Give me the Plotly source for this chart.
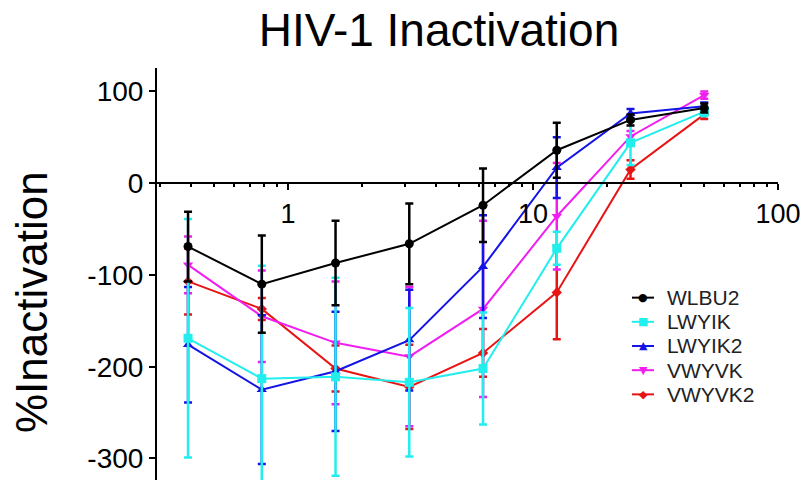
import plotly.graph_objects as go

# Concentration (two-fold dilution series)
conc = [0.390625, 0.78125, 1.5625, 3.125, 6.25, 12.5, 25, 50]

series_names = ["WLBU2", "LWYIK", "LWYIK2", "VWYVK", "VWYVK2"]

wlbu2 = [-69, -110, -87, -66, -24, 36, 69, 82]
wlbu2_err = [38, 53, 46, 44, 40, 30, 6, 5]

lwyik = [-169, -213, -211, -217, -202, -71, 44, 78]
lwyik_err = [130, 123, 108, 81, 61, 18, 24, 5]

lwyik2 = [-176, -225, -205, -171, -91, 17, 76, 84]
lwyik2_err = [63, 81, 65, 55, 56, 33, 5, 4]

vwyvk = [-89, -145, -174, -189, -137, -36, 51, 96]
vwyvk_err = [31, 50, 67, 76, 96, 58, 6, 4]

vwyvk2 = [-107, -137, -202, -222, -185, -119, 15, 75]
vwyvk2_err = [36, 12, 25, 46, 26, 51, 10, 5]

y_ticks = [-300, -200, -100, 0, 100]
y_tick_labels = ["-300", "-200", "-100", "0", "100"]
x_ticks = [1, 10, 100]
x_tick_labels = ["1", "10", "100"]

values = [wlbu2, lwyik, lwyik2, vwyvk, vwyvk2]
errors = [wlbu2_err, lwyik_err, lwyik2_err, vwyvk_err, vwyvk2_err]
colors = ["#000000", "#22EEEE", "#1414E6", "#F01EF0", "#E81414"]
symbols = ["circle", "square", "triangle-up", "triangle-down", "diamond"]
key_glyphs = ["●", "■", "▲", "▼", "◆"]
sizes = [9, 9, 9, 9, 8]

FONT = "Liberation Sans, Arial, sans-serif"
W, H = 807, 480
ML, MR, MT, MB = 157, 29, 68, 0
PW, PH = W - ML - MR, H - MT - MB


def px_x(p):
    return (p - ML) / PW


def px_y(p):
    return (H - MB - p) / PH


fig = go.Figure()
# draw order: red first, black last (on top)
for i in [4, 3, 2, 1, 0]:
    fig.add_trace(go.Scatter(
        x=conc, y=values[i], name=series_names[i],
        mode="lines+markers",
        line=dict(color=colors[i], width=2),
        marker=dict(color=colors[i], symbol=symbols[i], size=sizes[i]),
        error_y=dict(type="data", array=errors[i], visible=True,
                     color=colors[i], thickness=2.5, width=4),
        cliponaxis=False,
        showlegend=False,
    ))

ymin, ymax = -323.5, 125.6
zero_pos = (0 - ymin) / (ymax - ymin)

# manual legend (compact spacing as in the reference)
annotations = []
shapes = []
base_font = 18.6
leg_step = base_font * 1.3
leg_mid = 346
for i, name in enumerate(series_names):
    yy = px_y(leg_mid + (i - 2) * leg_step)
    shapes.append(dict(type="line", xref="paper", yref="paper",
                       x0=px_x(632), x1=px_x(654), y0=yy, y1=yy,
                       line=dict(color=colors[i], width=2)))
    annotations.append(dict(text=key_glyphs[i], xref="paper", yref="paper",
                            x=px_x(643), y=yy, xanchor="center",
                            yanchor="middle", showarrow=False,
                            font=dict(size=11, family="DejaVu Sans",
                                      color=colors[i])))
legend_text = "<br>".join(
    "<span style='font-size:21px'>%s</span>" % n for n in series_names)
annotations.append(dict(text=legend_text,
                        xref="paper", yref="paper",
                        x=px_x(665), y=px_y(leg_mid),
                        xanchor="left", yanchor="middle", align="left",
                        showarrow=False,
                        font=dict(size=base_font, family=FONT,
                                  color="#222222")))

annotations.append(dict(text="%Inactivation", textangle=-90,
                        xref="paper", yref="paper",
                        x=px_x(31), y=px_y(302),
                        xanchor="center", yanchor="middle", showarrow=False,
                        font=dict(size=44, family=FONT, color="black")))

fig.update_layout(
    width=W, height=H,
    margin=dict(l=ML, r=MR, t=MT, b=MB, autoexpand=False),
    paper_bgcolor="white", plot_bgcolor="white",
    font=dict(family=FONT, color="black"),
    title=dict(text="HIV-1 Inactivation", x=439 / W, xref="container",
               xanchor="center", y=1 - 30 / H, yref="container",
               yanchor="middle",
               font=dict(size=46, family=FONT, color="black")),
    showlegend=False,
    xaxis=dict(type="log", range=[-0.535, 2.0],
               anchor="free", position=zero_pos,
               showline=True, linecolor="black", linewidth=2,
               ticks="outside", ticklen=6, tickwidth=2, tickcolor="black",
               tickvals=x_ticks, ticktext=x_tick_labels,
               showgrid=False, zeroline=False, automargin=False,
               tickfont=dict(size=27, family=FONT, color="black"),
               minor=dict(ticks="outside", ticklen=3, tickwidth=1.5,
                          tickcolor="black", dtick="D1", showgrid=False)),
    yaxis=dict(range=[ymin, ymax], tickvals=y_ticks, ticktext=y_tick_labels,
               showline=True, linecolor="black", linewidth=2,
               ticks="outside", ticklen=6, tickwidth=2, tickcolor="black",
               showgrid=False, zeroline=False, automargin=False,
               tickfont=dict(size=28, family=FONT, color="black")),
    annotations=annotations,
    shapes=shapes,
)

fig.write_html("out.html",
               config={"displayModeBar": False},
               post_script="document.body.style.margin='0';"
                           "document.body.style.overflow='hidden';")
